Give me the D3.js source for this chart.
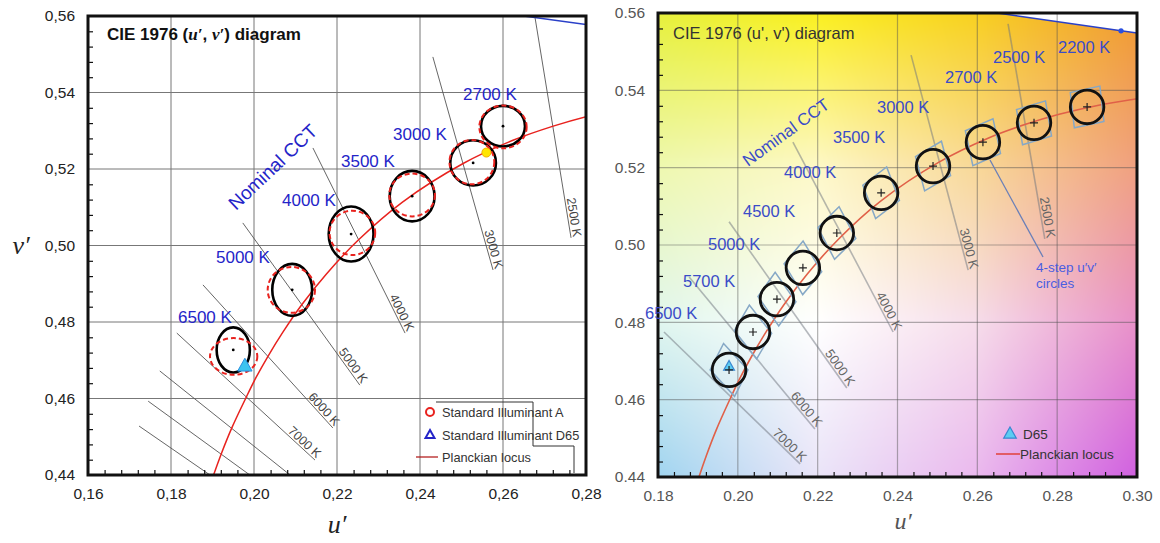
<!DOCTYPE html>
<html>
<head>
<meta charset="utf-8">
<script src="https://cdn.jsdelivr.net/npm/d3@7"></script>
<style>
  body { margin: 0; background: #fff; }
  svg text { font-family: "Liberation Sans", Arial, sans-serif; }
</style>
</head>
<body>
<svg id="chart" width="1160" height="543"></svg>
<script>
// ---- data ----
const vTicks = [0.44, 0.46, 0.48, 0.50, 0.52, 0.54, 0.56];
const uTicksL = [0.16, 0.18, 0.20, 0.22, 0.24, 0.26, 0.28];
const uTicksR = [0.18, 0.20, 0.22, 0.24, 0.26, 0.28, 0.30];

// Planckian locus (u', v')
const locusCCT = [11000, 10000, 9000, 8000, 7000, 6500, 6000, 5500, 5000, 4500, 4000, 3500, 3000, 2700, 2500, 2350, 2200, 2000];
const locusU = [0.1889, 0.1903, 0.1921, 0.1946, 0.1982, 0.2005, 0.2034, 0.2070, 0.2115, 0.2174, 0.2252, 0.2357, 0.2505, 0.2624, 0.2721, 0.2805, 0.2901, 0.3050];
const locusV = [0.4355, 0.4401, 0.4455, 0.4522, 0.4605, 0.4655, 0.4711, 0.4774, 0.4845, 0.4925, 0.5015, 0.5113, 0.5215, 0.5275, 0.5312, 0.5338, 0.5361, 0.5386];

// spectral locus piece at the top right
const specNm = [580, 585, 590];
const specU = [0.2623, 0.2960, 0.3315];
const specV = [0.5604, 0.5554, 0.5501];

const d65 = [0.1978, 0.4683];
const illumA = [0.2560, 0.5243];

// left panel: ellipses
const ellCCT = ["6500 K", "5000 K", "4000 K", "3500 K", "3000 K", "2700 K"];
const ellU = [0.1950, 0.2092, 0.2234, 0.2381, 0.2528, 0.2600];
const ellV = [0.4727, 0.4884, 0.5030, 0.5129, 0.5216, 0.5312];
const ellRu = [0.0040, 0.0048, 0.0054, 0.0054, 0.0055, 0.0053];
const ellRv = [0.0059, 0.0068, 0.0072, 0.0066, 0.0059, 0.0053];
const redU = [0.1951, 0.2090, 0.2237, 0.2381, 0.2525, 0.2600];
const redV = [0.4710, 0.4884, 0.5033, 0.5132, 0.5218, 0.5310];
const redRu = [0.0057, 0.0057, 0.0055, 0.0055, 0.0054, 0.0057];
const redRv = [0.0048, 0.0060, 0.0058, 0.0056, 0.0058, 0.0056];

// right panel: 4-step circles and quadrangles
const cirCCT = ["6500 K", "5700 K", "5000 K", "4500 K", "4000 K", "3500 K", "3000 K", "2700 K", "2500 K", "2200 K"];
const cirU = [0.1978, 0.2038, 0.2098, 0.2163, 0.2248, 0.2359, 0.2489, 0.2614, 0.2742, 0.2875];
const cirV = [0.4677, 0.4775, 0.4860, 0.4941, 0.5031, 0.5135, 0.5204, 0.5266, 0.5316, 0.5357];
const cirR = 0.0042;
const quadIsoSlope = [-1.12, -1.31, -1.46, -1.70, -1.96, -2.70, -3.90, -4.80, -6.00, -9.00];
const quadLocSlope = [2.02, 1.76, 1.455, 1.245, 1.023, 0.789, 0.607, 0.451, 0.311, 0.223];

// isotherms [label, u1, v1, u2, v2]
const isoLeft = [
  ["2500 K", 0.2677, 0.5597, 0.2764, 0.5020],
  ["3000 K", 0.2431, 0.5493, 0.2576, 0.4936],
  ["4000 K", 0.2142, 0.5255, 0.2364, 0.4771],
  ["5000 K", 0.1973, 0.5059, 0.2255, 0.4635],
  ["6000 K", 0.1877, 0.4897, 0.2190, 0.4523],
  ["7000 K", 0.1814, 0.4771, 0.2147, 0.4439],
  ["", 0.1773, 0.4672, 0.2087, 0.4400],
  ["", 0.1745, 0.4593, 0.1990, 0.4400],
  ["", 0.1723, 0.4528, 0.1894, 0.4400]
];
const isoRight = [
  ["2500 K", 0.2677, 0.5572, 0.2769, 0.5016],
  ["3000 K", 0.2434, 0.5491, 0.2577, 0.4935],
  ["4000 K", 0.2138, 0.5266, 0.2389, 0.4775],
  ["5000 K", 0.1978, 0.5060, 0.2273, 0.4630],
  ["6000 K", 0.1878, 0.4917, 0.2193, 0.4524],
  ["7000 K", 0.1815, 0.4775, 0.2156, 0.4434]
];

// background tint of the right diagram (rows v = 0.56 .. 0.44, cols u = 0.18 .. 0.30)
const bgU = [0.18, 0.22, 0.26, 0.30];
const bgV = [0.56, 0.52, 0.48, 0.44];
const bgColors = [
  ["#e6f03c", "#faf020", "#f8d020", "#f09a30"],
  ["#eef8b0", "#fdf8c8", "#f8d898", "#f0a080"],
  ["#e0f6ee", "#ffffff", "#f6dcea", "#e890c8"],
  ["#a0d4f0", "#eae4f8", "#eab8ee", "#d060e0"]
];

// ---- layout ----
const svg = d3.select("#chart");
const xL = d3.scaleLinear().domain([0.16, 0.28]).range([88, 586]);
const yL = d3.scaleLinear().domain([0.44, 0.56]).range([475, 16]);
const xR = d3.scaleLinear().domain([0.18, 0.30]).range([658, 1137]);
const yR = d3.scaleLinear().domain([0.44, 0.56]).range([477, 13]);

const defs = svg.append("defs");
function clipFor(id, x, y) {
  defs.append("clipPath").attr("id", id).append("rect")
    .attr("x", x.range()[0]).attr("y", y.range()[1])
    .attr("width", x.range()[1] - x.range()[0]).attr("height", y.range()[0] - y.range()[1]);
}
clipFor("clipL", xL, yL);
clipFor("clipR", xR, yR);

const minorV = d3.range(0.444, 0.558, 0.004).filter(v => Math.abs(Math.round(v * 50) - v * 50) > 0.01);
const fmtComma = d => d3.format(".2f")(d).replace(".", ",");
const fmtDot = d3.format(".2f");

// ---- right background (canvas image) ----
function paintBackground() {
  const x0 = xR.range()[0], y0 = yR.range()[1];
  const w = xR.range()[1] - x0, h = yR.range()[0] - y0;
  const cv = document.createElement("canvas");
  cv.width = w; cv.height = h;
  const ctx = cv.getContext("2d");
  const img = ctx.createImageData(w, h);
  const grid = bgColors.map(row => row.map(c => d3.rgb(c)));
  for (let j = 0; j < h; j++) {
    const v = yR.invert(y0 + j + 0.5);
    const tv = (bgV[0] - v) / (bgV[0] - bgV[1]);
    const r0 = Math.max(0, Math.min(2, Math.floor(tv))), fv = tv - r0;
    for (let i = 0; i < w; i++) {
      const u = xR.invert(x0 + i + 0.5);
      const tu = (u - bgU[0]) / (bgU[1] - bgU[0]);
      const c0 = Math.max(0, Math.min(2, Math.floor(tu))), fu = tu - c0;
      const a = grid[r0][c0], b = grid[r0][c0 + 1], c = grid[r0 + 1][c0], d = grid[r0 + 1][c0 + 1];
      const k = (j * w + i) * 4;
      ["r", "g", "b"].forEach((ch, n) => {
        const top = a[ch] + (b[ch] - a[ch]) * fu;
        const bot = c[ch] + (d[ch] - c[ch]) * fu;
        img.data[k + n] = top + (bot - top) * fv;
      });
      img.data[k + 3] = 255;
    }
  }
  ctx.putImageData(img, 0, 0);
  svg.append("image").attr("x", x0).attr("y", y0).attr("width", w).attr("height", h)
    .attr("href", cv.toDataURL());
}
paintBackground();

// white outside the spectral locus
svg.append("path")
  .attr("clip-path", "url(#clipR)")
  .attr("fill", "#fff")
  .attr("d", d3.line()([[xR(0.24), yR(0.58)], ...specU.map((u, i) => [xR(u), yR(specV[i])]), [xR(0.34), yR(0.58)]]));

// ---- shared pieces ----
function grid(x, y, uVals, color, width) {
  const g = svg.append("g").attr("stroke", color).attr("stroke-width", width);
  g.selectAll(".gv").data(uVals.slice(1, -1)).join("line")
    .attr("x1", d => x(d)).attr("x2", d => x(d)).attr("y1", y.range()[0]).attr("y2", y.range()[1]);
  g.selectAll(".gh").data(vTicks.slice(1, -1)).join("line")
    .attr("y1", d => y(d)).attr("y2", d => y(d)).attr("x1", x.range()[0]).attr("x2", x.range()[1]);
}

function isotherms(x, y, rows, lineColor, lineWidth, textColor, size, clip) {
  const g = svg.append("g");
  rows.forEach(r => {
    const [lab, u1, v1, u2, v2] = r;
    const p1 = [x(u1), y(v1)], p2 = [x(u2), y(v2)];
    g.append("line").attr("clip-path", clip)
      .attr("x1", p1[0]).attr("y1", p1[1]).attr("x2", p2[0]).attr("y2", p2[1])
      .attr("stroke", lineColor).attr("stroke-width", lineWidth);
    if (lab) {
      const ang = Math.atan2(p2[1] - p1[1], p2[0] - p1[0]) * 180 / Math.PI;
      g.append("text").attr("transform", `translate(${p2[0]},${p2[1]}) rotate(${ang})`)
        .attr("text-anchor", "end").attr("dy", -2)
        .attr("font-size", size).attr("fill", textColor).text(lab);
    }
  });
}

function locusPath(x, y, color, width, clip) {
  const pts = locusU.map((u, i) => [x(u), y(locusV[i])]);
  svg.append("path").attr("clip-path", clip)
    .attr("d", d3.line().curve(d3.curveCatmullRom)(pts))
    .attr("fill", "none").attr("stroke", color).attr("stroke-width", width);
}

function spectral(x, y, clip, withDot) {
  svg.append("path").attr("clip-path", clip)
    .attr("d", d3.line()(specU.map((u, i) => [x(u), y(specV[i])])))
    .attr("fill", "none").attr("stroke", "#2a40c8").attr("stroke-width", 1.5);
  if (withDot) {
    svg.append("circle").attr("cx", x(specU[1])).attr("cy", y(specV[1])).attr("r", 2.6).attr("fill", "#2a50e0");
  }
}

function axes(x, y, uVals, fmt, color) {
  const x0 = x.range()[0], y0 = y.range()[0];
  const gy = svg.append("g").attr("transform", `translate(${x0},0)`)
    .call(d3.axisLeft(y).tickValues(vTicks).tickFormat(fmt).tickSize(0).tickPadding(13));
  const gx = svg.append("g").attr("transform", `translate(0,${y0})`)
    .call(d3.axisBottom(x).tickValues(uVals).tickFormat(fmt).tickSize(0).tickPadding(13));
  [gy, gx].forEach(g => {
    g.select(".domain").remove();
    g.selectAll("text").attr("font-size", 15.5).attr("fill", color);
  });
  const minorU = d3.range(x.domain()[0] + 0.004, x.domain()[1] - 0.001, 0.004)
    .filter(u => Math.abs(Math.round(u * 50) - u * 50) > 0.01);
  svg.append("g").attr("transform", `translate(${x0},0)`)
    .call(d3.axisLeft(y).tickValues(minorV).tickSize(-5).tickFormat(""))
    .call(g => g.select(".domain").remove())
    .selectAll("line").attr("stroke", "#111").attr("stroke-width", 1.2);
  svg.append("g").attr("transform", `translate(0,${y0})`)
    .call(d3.axisBottom(x).tickValues(minorU).tickSize(-5).tickFormat(""))
    .call(g => g.select(".domain").remove())
    .selectAll("line").attr("stroke", "#111").attr("stroke-width", 1.2);
  svg.append("rect").attr("x", x0).attr("y", y.range()[1])
    .attr("width", x.range()[1] - x0).attr("height", y0 - y.range()[1])
    .attr("fill", "none").attr("stroke", "#111").attr("stroke-width", 3);
}

function triangle(cx, cy, s) {
  return `M${cx},${cy - s}L${cx + s * 0.9},${cy + s * 0.6}L${cx - s * 0.9},${cy + s * 0.6}Z`;
}

// ================= LEFT PANEL =================
grid(xL, yL, uTicksL, "#777", 1);
isotherms(xL, yL, isoLeft, "#555", 0.9, "#444", 12.5, "url(#clipL)");
spectral(xL, yL, "url(#clipL)", false);
locusPath(xL, yL, "#e8221e", 1.5, "url(#clipL)");

// ellipses
const gE = svg.append("g");
gE.selectAll(".blk").data(ellU).join("ellipse")
  .attr("cx", (u) => xL(u)).attr("cy", (u, i) => yL(ellV[i]))
  .attr("rx", (u, i) => xL(u + ellRu[i]) - xL(u)).attr("ry", (u, i) => yL(ellV[i] - ellRv[i]) - yL(ellV[i]))
  .attr("fill", "none").attr("stroke", "#000").attr("stroke-width", 2.6);
gE.selectAll(".red").data(redU).join("ellipse")
  .attr("cx", (u) => xL(u)).attr("cy", (u, i) => yL(redV[i]))
  .attr("rx", (u, i) => xL(u + redRu[i]) - xL(u)).attr("ry", (u, i) => yL(redV[i] - redRv[i]) - yL(redV[i]))
  .attr("fill", "none").attr("stroke", "#e8221e").attr("stroke-width", 2).attr("stroke-dasharray", "5,3");
gE.selectAll(".dot").data(ellU).join("circle")
  .attr("cx", (u) => xL(u)).attr("cy", (u, i) => yL(ellV[i])).attr("r", 1.4).attr("fill", "#000");

// illuminants
svg.append("circle").attr("cx", xL(illumA[0])).attr("cy", yL(illumA[1])).attr("r", 4.5)
  .attr("fill", "#ffe600").attr("stroke", "#f0b000").attr("stroke-width", 1);
svg.append("path").attr("d", triangle(xL(d65[0]), yL(d65[1]) - 0.5, 8))
  .attr("fill", "#3cc4f0").attr("stroke", "#2a90e0").attr("stroke-width", 1);

// CCT labels (left)
const labPosL = [[178, 323], [216, 263], [282, 206], [341, 167], [393, 140], [463, 100]];
svg.append("g").selectAll("text").data(ellCCT).join("text")
  .attr("x", (d, i) => labPosL[i][0]).attr("y", (d, i) => labPosL[i][1])
  .attr("font-size", 17).attr("fill", "#2424c8").text(d => d);
svg.append("text").attr("transform", "translate(236,211) rotate(-43.5)")
  .attr("font-size", 19).attr("fill", "#2424c8").text("Nominal CCT");

// legend (left)
svg.append("path").attr("d", "M436,402H533V446H574V473").attr("fill", "none").attr("stroke", "#333").attr("stroke-width", 1);
svg.append("circle").attr("cx", 430).attr("cy", 412).attr("r", 4).attr("fill", "none").attr("stroke", "#e8221e").attr("stroke-width", 2);
svg.append("path").attr("d", triangle(430, 435, 5)).attr("fill", "#fff").attr("stroke", "#2424c8").attr("stroke-width", 2);
svg.append("line").attr("x1", 416).attr("x2", 438).attr("y1", 457).attr("y2", 457).attr("stroke", "#b01010").attr("stroke-width", 1.2);
const legL = [["Standard Illuminant A", 417], ["Standard Illuminant D65", 440], ["Planckian locus", 462]];
svg.append("g").selectAll("text").data(legL).join("text")
  .attr("x", 442).attr("y", d => d[1]).attr("font-size", 12.8).attr("fill", "#333").text(d => d[0]);

axes(xL, yL, uTicksL, fmtComma, "#222");

// title left
const tL = svg.append("text").attr("x", 107).attr("y", 40).attr("font-size", 17).attr("font-weight", "bold").attr("fill", "#111");
tL.append("tspan").text("CIE 1976 (");
tL.append("tspan").attr("font-family", "Liberation Serif, serif").attr("font-style", "italic").text("u′");
tL.append("tspan").text(", ");
tL.append("tspan").attr("font-family", "Liberation Serif, serif").attr("font-style", "italic").text("v′");
tL.append("tspan").text(") diagram");

svg.append("text").attr("x", 337).attr("y", 533).attr("text-anchor", "middle")
  .attr("font-size", 26).attr("font-style", "italic").attr("fill", "#222")
  .style("font-family", "Liberation Serif, serif").text("u′");
svg.append("text").attr("x", 21).attr("y", 254).attr("text-anchor", "middle")
  .attr("font-size", 26).attr("font-style", "italic").attr("fill", "#222")
  .style("font-family", "Liberation Serif, serif").text("v′");

// ================= RIGHT PANEL =================
grid(xR, yR, uTicksR, "rgba(80,80,80,0.45)", 1.2);
isotherms(xR, yR, isoRight, "rgba(110,115,125,0.5)", 1.6, "#666", 13, "url(#clipR)");
spectral(xR, yR, "url(#clipR)", true);
locusPath(xR, yR, "#e06048", 1.6, "url(#clipR)");

// quadrangles
function quadCorners(i) {
  const unit = p => { const n = Math.hypot(p[0], p[1]); return [p[0] / n, p[1] / n]; };
  const a = unit([1, quadIsoSlope[i]]), b = unit([1, quadLocSlope[i]]);
  const hi = 0.0046, hl = 0.0038;
  return [[1, 1], [1, -1], [-1, -1], [-1, 1]].map(([s, t]) =>
    [xR(cirU[i] + s * hi * a[0] + t * hl * b[0]), yR(cirV[i] + s * hi * a[1] + t * hl * b[1])]);
}
svg.append("g").selectAll("path").data(cirU).join("path")
  .attr("d", (u, i) => d3.line()(quadCorners(i)) + "Z")
  .attr("fill", "none").attr("stroke", "#86a8c6").attr("stroke-width", 1.5);

// D65 marker under the first circle
svg.append("path").attr("d", triangle(xR(d65[0]), yR(d65[1]) - 1, 6))
  .attr("fill", "#5cccf2").attr("stroke", "#3a86d0").attr("stroke-width", 1.2);

svg.append("g").selectAll("circle").data(cirU).join("circle")
  .attr("cx", u => xR(u)).attr("cy", (u, i) => yR(cirV[i]))
  .attr("r", xR(0.18 + cirR) - xR(0.18))
  .attr("fill", "none").attr("stroke", "#111").attr("stroke-width", 2.8);
svg.append("g").selectAll("path").data(cirU).join("path")
  .attr("d", (u, i) => { const cx = xR(u), cy = yR(cirV[i]); return `M${cx - 4},${cy}H${cx + 4}M${cx},${cy - 4}V${cy + 4}`; })
  .attr("stroke", "#222").attr("stroke-width", 1.2);

// leader to circles note
svg.append("line").attr("x1", 990).attr("y1", 160).attr("x2", 1043).attr("y2", 257)
  .attr("stroke", "#6a7fb8").attr("stroke-width", 1.3);
svg.append("text").attr("x", 1036).attr("y", 272).attr("font-size", 13.5).attr("fill", "#4a5ee0").text("4-step u′v′");
svg.append("text").attr("x", 1036).attr("y", 288).attr("font-size", 13.5).attr("fill", "#4a5ee0").text("circles");

// legend (right)
svg.append("path").attr("d", triangle(1010, 434, 7)).attr("fill", "#5cccf2").attr("stroke", "#3a86d0").attr("stroke-width", 1.2);
svg.append("text").attr("x", 1023).attr("y", 439).attr("font-size", 13.5).attr("fill", "#333").text("D65");
svg.append("line").attr("x1", 996).attr("x2", 1020).attr("y1", 454).attr("y2", 454).attr("stroke", "#e0403a").attr("stroke-width", 1.5);
svg.append("text").attr("x", 1020).attr("y", 459).attr("font-size", 13.5).attr("fill", "#333").text("Planckian locus");

axes(xR, yR, uTicksR, fmtDot, "#555");

// CCT labels (right)
const labPosR = [[645, 319], [683, 287], [708, 250], [743, 217], [784, 178], [833, 143], [877, 113], [945, 83], [993, 63], [1058, 53]];
svg.append("g").selectAll("text").data(cirCCT).join("text")
  .attr("x", (d, i) => labPosR[i][0]).attr("y", (d, i) => labPosR[i][1])
  .attr("font-size", 16.5).attr("fill", "#3a4cc8").text(d => d);
svg.append("text").attr("transform", "translate(748,167) rotate(-36)")
  .attr("font-size", 17).attr("fill", "#3a4cc8").text("Nominal CCT");

svg.append("text").attr("x", 673).attr("y", 39).attr("font-size", 16.5).attr("fill", "#333")
  .text("CIE 1976 (u', v') diagram");
svg.append("text").attr("x", 903).attr("y", 529).attr("text-anchor", "middle")
  .attr("font-size", 24).attr("font-style", "italic").attr("fill", "#555")
  .style("font-family", "Liberation Serif, serif").text("u′");
</script>
</body>
</html>
